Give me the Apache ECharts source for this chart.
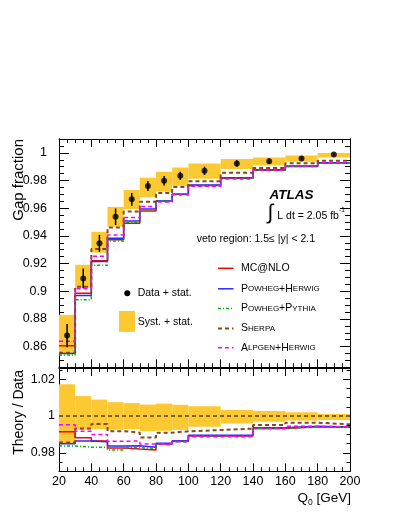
<!DOCTYPE html>
<html><head><meta charset="utf-8">
<script src="https://cdn.jsdelivr.net/npm/echarts@6/dist/echarts.min.js"></script>
<style>html,body{margin:0;padding:0;background:#fff}#c{width:399px;height:516px}</style>
</head><body><div id="c"></div>
<script>
// ---------------- data ----------------
const binEdges = [20, 30, 40, 50, 60, 70, 80, 90, 100, 120, 140, 160, 180, 200];
const gapFraction = [0.868, 0.9093, 0.9346, 0.9538, 0.9664, 0.976, 0.9798, 0.9834, 0.987, 0.9923, 0.994, 0.996, 0.9988];
const statError = [0.0084, 0.0072, 0.0062, 0.006, 0.0046, 0.0036, 0.0034, 0.003, 0.003, 0.0024, 0.002, 0.0015, 0.001];
const systRatioHigh = [1.0172, 1.0108, 1.0089, 1.0075, 1.007, 1.0062, 1.0067, 1.0061, 1.0053, 1.0032, 1.0027, 1.002, 1.0011];
const systRatioLow = [0.9853, 0.9925, 0.9928, 0.9925, 0.9928, 0.9918, 0.992, 0.9925, 0.9942, 0.996, 0.9969, 0.9975, 0.9978];
const mcatnloRatio = [0.9915, 0.9882, 0.9865, 0.9827, 0.9821, 0.9816, 0.9849, 0.9865, 0.9892, 0.9892, 0.9933, 0.9942, 0.9939];
const powhegHerwigRatio = [0.985, 0.9865, 0.986, 0.9837, 0.9839, 0.9831, 0.9852, 0.9865, 0.9896, 0.9896, 0.9937, 0.9944, 0.9941];
const powhegPythiaRatio = [0.9838, 0.9831, 0.9831, 0.9816, 0.9828, 0.9825, 0.985, 0.9861, 0.9892, 0.9892, 0.9933, 0.9941, 0.9939];
const sherpaRatio = [0.9857, 0.9933, 0.9957, 0.9918, 0.991, 0.9884, 0.991, 0.9917, 0.9924, 0.9932, 0.9951, 0.9964, 0.9955];
const alpgenHerwigRatio = [0.9952, 0.9917, 0.99, 0.9863, 0.9865, 0.9849, 0.9843, 0.9861, 0.9888, 0.9888, 0.9933, 0.9944, 0.9941];
const ratioReference = [1, 1];
const upperYTicks = [0.86, 0.88, 0.9, 0.92, 0.94, 0.96, 0.98, 1];
const lowerYTicks = [0.98, 1, 1.02];

// ---------------- helpers ----------------
const FONT = '"Liberation Sans", Arial, Helvetica, sans-serif';
const BAND = '#fdc933';
const BLACK = '#000';
const nBins = gapFraction.length;
const lowEdges = binEdges.slice(0, -1);
const centers = lowEdges.map((e, i) => (e + binEdges[i + 1]) / 2);
const times = (a, b) => a.map((v, i) => v * b[i]);
const stepData = vals => binEdges.map((e, i) => [e, vals[Math.min(i, nBins - 1)]]);
function minorList(min, max, step) {
  const out = [];
  for (let k = Math.ceil(min / step - 1e-9); k * step <= max + 1e-9; k++) out.push(+(k * step).toFixed(4));
  return out;
}
const upperMinor = minorList(0.845, 1.01, 0.005);
const lowerMinor = minorList(0.97, 1.026, 0.005);

const MODELS = [
  {name: 'MC@NLO', ratio: mcatnloRatio, color: '#ff0000', type: 'solid', width: 1.5},
  {name: 'Powheg+Herwig', ratio: powhegHerwigRatio, color: '#2a2aff', type: 'solid', width: 1.5},
  {name: 'Powheg+Pythia', ratio: powhegPythiaRatio, color: '#00b400', type: [3, 2, 1, 2], width: 1.5},
  {name: 'Sherpa', ratio: sherpaRatio, color: '#874a12', type: [4, 3], width: 2},
  {name: 'Alpgen+Herwig', ratio: alpgenHerwigRatio, color: '#ff00ff', type: [4, 3], width: 1.5}
];

function bandSeries(lo, hi, xi, yi) {
  return {
    type: 'custom', xAxisIndex: xi, yAxisIndex: yi, z: 1, silent: true,
    data: lowEdges.map((e, i) => [e, binEdges[i + 1], lo[i], hi[i]]),
    encode: {x: [0, 1], y: [2, 3]},
    renderItem: (params, api) => {
      const p0 = api.coord([api.value(0), api.value(3)]);
      const p1 = api.coord([api.value(1), api.value(2)]);
      return {type: 'rect', shape: {x: p0[0], y: p0[1], width: p1[0] - p0[0], height: p1[1] - p0[1]}, style: {fill: BAND}};
    }
  };
}
function lineSeries(m, vals, xi, yi) {
  return {
    type: 'line', name: m.name, xAxisIndex: xi, yAxisIndex: yi, step: 'end', z: 3,
    showSymbol: false, symbol: 'none', silent: true,
    data: stepData(vals),
    lineStyle: {color: m.color, width: m.width, type: m.type}
  };
}
const lineStyle = {color: BLACK, width: 1};
function xAx(grid, pos, showLabel) {
  return {
    type: 'value', gridIndex: grid, position: pos, min: 20, max: 200, interval: 20,
    axisLine: {onZero: false, lineStyle},
    axisTick: {inside: true, length: 8, lineStyle},
    minorTick: {show: true, splitNumber: 4, length: 4, lineStyle},
    splitLine: {show: false}, minorSplitLine: {show: false},
    axisLabel: showLabel ? {show: true, color: BLACK, fontFamily: FONT, fontSize: 12.5, margin: 4} : {show: false}
  };
}
function yAx(grid, pos, min, max, ticks, len, labelOpt) {
  return {
    type: 'value', gridIndex: grid, position: pos, min, max,
    axisLine: {show: true, onZero: false, lineStyle},
    axisTick: {show: true, inside: true, length: len, customValues: ticks, lineStyle},
    splitLine: {show: false},
    axisLabel: labelOpt ? Object.assign({show: true, customValues: ticks, color: BLACK, fontFamily: FONT,
      formatter: v => String(+(+v).toFixed(3))}, labelOpt) : {show: false}
  };
}

// ---------------- series ----------------
const series = [];
// upper panel
series.push(bandSeries(times(gapFraction, systRatioLow), times(gapFraction, systRatioHigh), 0, 0));
MODELS.forEach(m => series.push(lineSeries(m, times(m.ratio, gapFraction), 0, 0)));
series.push({
  type: 'custom', xAxisIndex: 0, yAxisIndex: 0, z: 5, silent: true,
  data: centers.map((c, i) => [c, gapFraction[i], statError[i]]),
  encode: {x: 0, y: 1},
  renderItem: (params, api) => {
    const x = api.value(0), y = api.value(1), e = api.value(2);
    const a = api.coord([x, y - e]), b = api.coord([x, y + e]);
    return {type: 'line', shape: {x1: a[0], y1: a[1], x2: b[0], y2: b[1]}, style: {stroke: BLACK, lineWidth: 1.5}};
  }
});
series.push({
  type: 'scatter', name: 'Data + stat.', xAxisIndex: 0, yAxisIndex: 0, z: 6, silent: true,
  symbol: 'circle', symbolSize: 6, itemStyle: {color: BLACK},
  data: centers.map((c, i) => [c, gapFraction[i]])
});
// lower panel
series.push(bandSeries(systRatioLow, systRatioHigh, 2, 4));
series.push({
  type: 'line', xAxisIndex: 2, yAxisIndex: 4, z: 2, showSymbol: false, symbol: 'none', silent: true,
  data: [[20, ratioReference[0]], [200, ratioReference[1]]],
  lineStyle: {color: BLACK, width: 1, type: [4, 3]}
});
MODELS.forEach(m => series.push(lineSeries(m, m.ratio, 2, 4)));

// ---------------- legend / annotations ----------------
const txt = (x, y, text, size, extra) => ({
  type: 'text', x, y, silent: true,
  style: Object.assign({text, fontFamily: FONT, fontSize: size, fill: BLACK, textVerticalAlign: 'middle'}, extra || {})
});
const scRich = {a: {fontFamily: FONT, fontSize: 10.5, color: BLACK}, b: {fontFamily: FONT, fontSize: 8, color: BLACK}};
const legendLabels = [
  '{a|MC@NLO}',
  '{a|P}{b|OWHEG}{a|+H}{b|ERWIG}',
  '{a|P}{b|OWHEG}{a|+P}{b|YTHIA}',
  '{a|S}{b|HERPA}',
  '{a|A}{b|LPGEN}{a|+H}{b|ERWIG}'
];
const legendY = [268.3, 288.8, 308.6, 328.4, 347.8];
const graphics = [];
MODELS.forEach((m, i) => {
  graphics.push({type: 'line', silent: true, shape: {x1: 218, y1: legendY[i], x2: 233.5, y2: legendY[i]},
    style: {stroke: m.color, lineWidth: m.width, lineDash: m.type === 'solid' ? null : m.type}});
  graphics.push({type: 'text', x: 241, y: legendY[i], silent: true,
    style: {text: legendLabels[i], rich: scRich, fontFamily: FONT, fontSize: 10.5, fill: BLACK, textVerticalAlign: 'middle'}});
});
graphics.push({type: 'circle', silent: true, shape: {cx: 127.3, cy: 293.3, r: 3}, style: {fill: BLACK}});
graphics.push(txt(137.7, 293.3, 'Data + stat.', 10.5));
graphics.push({type: 'rect', silent: true, shape: {x: 119, y: 311, width: 16, height: 21}, style: {fill: BAND}});
graphics.push(txt(137.7, 322, 'Syst. + stat.', 10.5));
graphics.push(txt(269.5, 195.5, 'ATLAS', 13.5, {fontWeight: 'bold', fontStyle: 'italic'}));
graphics.push(txt(267.5, 213.5, '∫', 21));
graphics.push(txt(277.3, 216.5, 'L dt = 2.05 fb', 10.5));
graphics.push(txt(339, 210.5, '-1', 6.5));
graphics.push(txt(196.7, 239.3, 'veto region: 1.5≤ |y| < 2.1', 10.5));
graphics.push({type: 'text', x: 19, y: 139, rotation: Math.PI / 2, silent: true,
  style: {text: 'Gap fraction', fontFamily: FONT, fontSize: 15, fill: BLACK, textAlign: 'right', textVerticalAlign: 'middle'}});
graphics.push({type: 'text', x: 19.5, y: 370, rotation: Math.PI / 2, silent: true,
  style: {text: 'Theory / Data', fontFamily: FONT, fontSize: 14, fill: BLACK, textAlign: 'right', textVerticalAlign: 'middle'}});
graphics.push({type: 'text', x: 351, y: 498, silent: true,
  style: {text: 'Q{s|0} [GeV]', fontFamily: FONT, fontSize: 13.5, fill: BLACK, textAlign: 'right', textVerticalAlign: 'middle',
    rich: {s: {fontFamily: FONT, fontSize: 8.5, fill: BLACK, padding: [9, 0, 0, 0]}}}});

// ---------------- chart ----------------
const chart = echarts.init(document.getElementById('c'), null, {renderer: 'canvas'});
chart.setOption({
  animation: false,
  backgroundColor: '#fff',
  grid: [
    {left: 59, top: 139, width: 291, height: 228.4},
    {left: 59, top: 368, width: 291, height: 103.4}
  ],
  xAxis: [xAx(0, 'bottom', false), xAx(0, 'top', false), xAx(1, 'bottom', true), xAx(1, 'top', false)],
  yAxis: [
    yAx(0, 'left', 0.845, 1.01, upperYTicks, 10, {fontSize: 12.5, margin: 12}),
    yAx(0, 'right', 0.845, 1.01, upperYTicks, 10, null),
    yAx(0, 'left', 0.845, 1.01, upperMinor, 5, null),
    yAx(0, 'right', 0.845, 1.01, upperMinor, 5, null),
    yAx(1, 'left', 0.97, 1.026, lowerYTicks, 7, {fontSize: 12.5, margin: 4}),
    yAx(1, 'right', 0.97, 1.026, lowerYTicks, 7, null),
    yAx(1, 'left', 0.97, 1.026, lowerMinor, 3.5, null),
    yAx(1, 'right', 0.97, 1.026, lowerMinor, 3.5, null)
  ],
  series,
  graphic: graphics
});
</script>
</body></html>
